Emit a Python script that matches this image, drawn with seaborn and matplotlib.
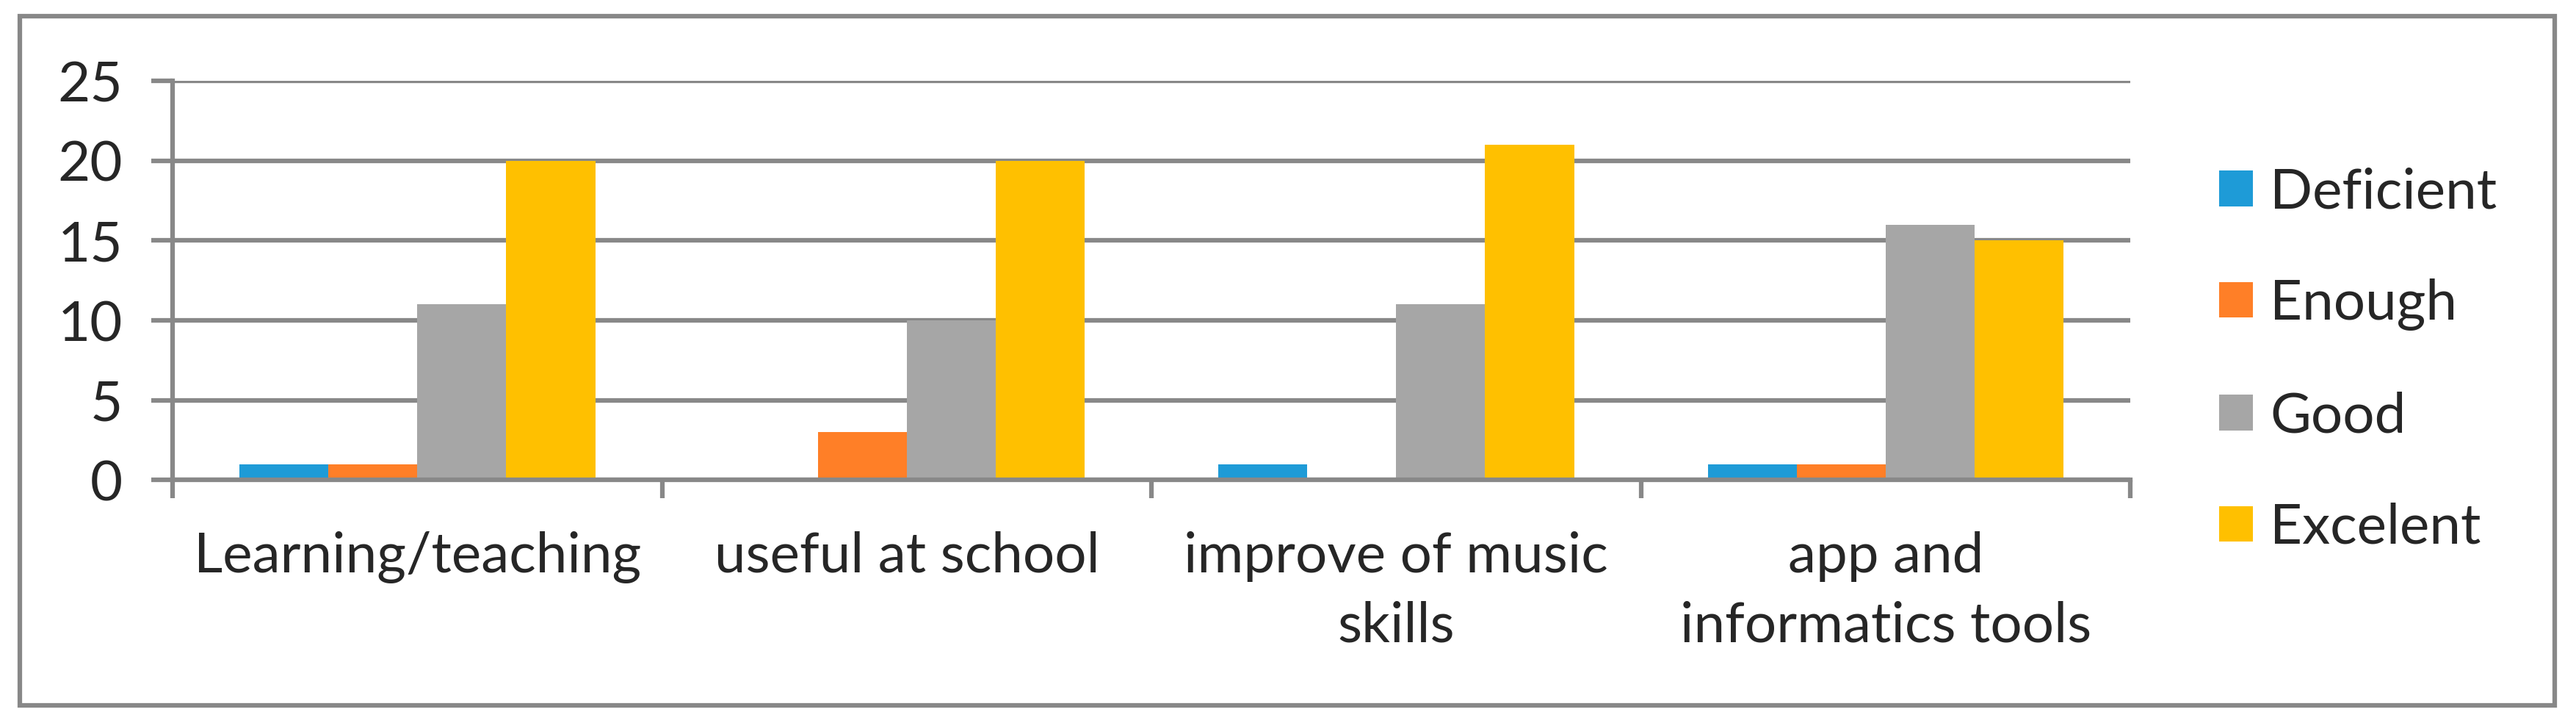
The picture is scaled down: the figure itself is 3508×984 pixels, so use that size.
import matplotlib
matplotlib.use("Agg")
import matplotlib.pyplot as plt
import numpy as np
import pandas as pd
import seaborn as sns
from matplotlib.patches import Rectangle

# data
categories = ["Learning/teaching", "useful at school",
              "improve of music\nskills", "app and\ninformatics tools"]
levels = ["Deficient", "Enough", "Good", "Excelent"]
deficient = [1, 0, 1, 1]
enough = [1, 3, 0, 1]
good = [11, 10, 11, 16]
excelent = [20, 20, 21, 15]
colors = ["#1E9BD7", "#FF7F27", "#A6A6A6", "#FFC000"]

rows = []
for lev, vals in zip(levels, [deficient, enough, good, excelent]):
    for cat, v in zip(categories, vals):
        rows.append({"category": cat, "level": lev, "count": v})
df = pd.DataFrame(rows)

sns.set_theme(style="white")
plt.rcParams["font.family"] = ["Lato", "DejaVu Sans"]

line_c = "#888888"
fs = 55

fig = plt.figure(figsize=(35.08, 9.84), dpi=100)
ax = fig.add_axes([0.067, 0.336, 0.76, 0.552])

sns.barplot(data=df, x="category", y="count", hue="level", order=categories,
            hue_order=levels, palette=colors, width=0.727, gap=0,
            saturation=1, linewidth=0, errorbar=None, ax=ax)

ax.set_ylim(0, 25)
ax.set_xlim(-0.5, 3.5)
ax.set_yticks(range(0, 26, 5))
ax.set_xlabel("")
ax.set_ylabel("")
ax.set_axisbelow(True)
ax.yaxis.grid(True, color=line_c, linewidth=4.5)
ax.xaxis.grid(False)

for s in ["top", "right"]:
    ax.spines[s].set_visible(False)
for s in ["left", "bottom"]:
    ax.spines[s].set_color(line_c)
    ax.spines[s].set_linewidth(4.5)

ax.set_xticks(np.arange(-0.5, 4.0, 1.0), minor=True)
ax.tick_params(axis="x", which="minor", length=18, width=4.5, color=line_c,
               bottom=True)
ax.tick_params(axis="x", which="major", length=0, pad=50, labelsize=fs)
ax.tick_params(axis="y", which="major", length=21, width=4.5, color=line_c,
               left=True, pad=28, labelsize=fs)
for lab in ax.get_xticklabels():
    lab.set_verticalalignment("top")
    lab.set_linespacing(1.45)

ax.legend(loc="center left", bbox_to_anchor=(0.842, 0.502),
          bbox_transform=fig.transFigure, frameon=False, fontsize=fs,
          handlelength=0.6, handleheight=0.6, handletextpad=0.3,
          labelspacing=1.08)

fig.patches.append(Rectangle((27 / 3508, 24 / 984), 3452 / 3508, 938 / 984,
                             transform=fig.transFigure, fill=False,
                             edgecolor=line_c, linewidth=4.5))

fig.savefig("out.png", dpi=100, facecolor="white")
